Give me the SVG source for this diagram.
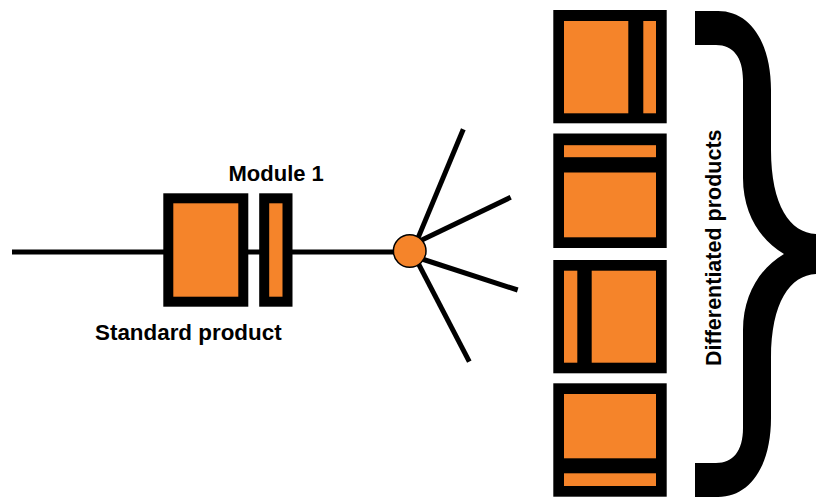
<svg xmlns="http://www.w3.org/2000/svg" width="816" height="498" viewBox="0 0 816 498">
<style>
.bg{fill:#ffffff}
.ln{stroke:#000;stroke-width:5;fill:none}
.frame{fill:#000}
.fill{fill:#F5842A}
.box{fill:#F5842A;stroke:#000;stroke-width:10}
.lbl{font-family:"Liberation Sans",Arial,sans-serif;font-weight:bold;font-size:22px;fill:#000}
</style>
<rect class="bg" x="0" y="0" width="816" height="498"/>
<g id="connectors">
<line class="ln" x1="12" y1="252" x2="405" y2="252"/>
<line class="ln" x1="416.2" y1="242.4" x2="463.3" y2="129.3"/>
<line class="ln" x1="416.1" y1="242.8" x2="510.7" y2="197.3"/>
<line class="ln" x1="417.4" y1="257.5" x2="517.7" y2="290"/>
<line class="ln" x1="416.3" y1="259.6" x2="469.3" y2="361.7"/>
</g>
<g id="standard-product">
<rect class="box" x="168.3" y="198.3" width="75" height="103.4"/>
<text class="lbl" x="95" y="340" style="font-size:22.4px">Standard product</text>
</g>
<g id="module-1">
<rect class="box" x="264.2" y="198.3" width="23.3" height="103.4"/>
<text class="lbl" x="228.5" y="181">Module 1</text>
</g>
<g id="hub">
<circle cx="409.7" cy="251" r="16.3" fill="#F5842A" stroke="#000" stroke-width="1.5"/>
</g>
<g id="product-1">
<rect class="frame" x="553.3" y="10" width="113.4" height="113.3"/>
<rect class="fill" x="564" y="21" width="64.3" height="92.3"/>
<rect class="fill" x="643.3" y="21" width="12.7" height="92.3"/>
</g>
<g id="product-2">
<rect class="frame" x="553.3" y="133.5" width="113.4" height="114.5"/>
<rect class="fill" x="564" y="145.2" width="92" height="12"/>
<rect class="fill" x="564" y="172.5" width="92" height="64.8"/>
</g>
<g id="product-3">
<rect class="frame" x="553.3" y="260" width="113.4" height="113.3"/>
<rect class="fill" x="564" y="270.7" width="13.3" height="92"/>
<rect class="fill" x="591.7" y="270.7" width="64.3" height="92"/>
</g>
<g id="product-4">
<rect class="frame" x="553.3" y="383.3" width="113.4" height="113.4"/>
<rect class="fill" x="564" y="394" width="92" height="64.3"/>
<rect class="fill" x="564" y="473.3" width="92" height="12.7"/>
</g>
<g id="brace">
<path fill="#000" d="M695,11 L718,11 C750,11 771,42 771,90 L771,150 C771,205 790,233 816,234 L830,234 L830,274 L816,274 C790,275 771,303 771,358 L771,418 C771,466 750,497 718,497 L695,497 L695,463 L716,463 C733,463 743,451 743,428 L743,330 C743,295 760,268 784,254 C760,240 743,213 743,178 L743,80 C743,57 733,45 716,45 L695,45 Z"/>
<text class="lbl" transform="translate(720.7,366) rotate(-90)" style="font-size:21.5px">Differentiated products</text>
</g>
</svg>
